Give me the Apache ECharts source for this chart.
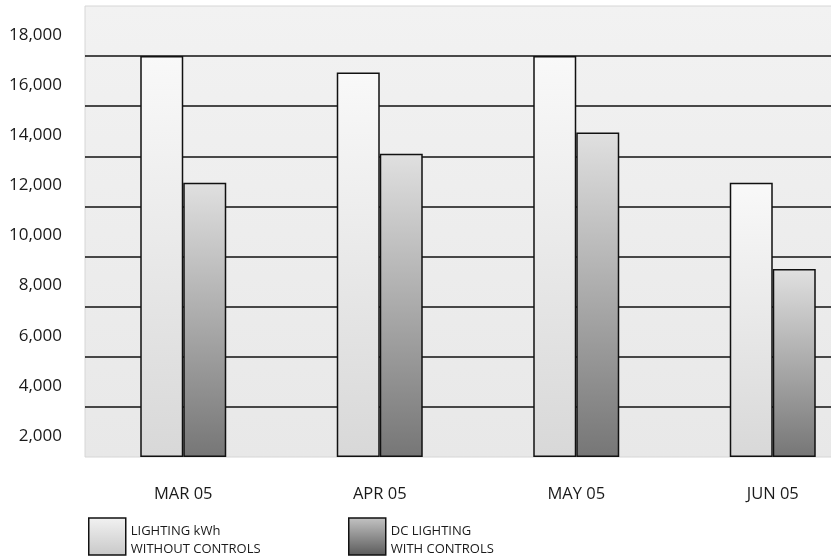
<!DOCTYPE html>
<html>
<head>
<meta charset="utf-8">
<script src="https://cdn.jsdelivr.net/npm/echarts@6/dist/echarts.min.js"></script>
<style>html,body{margin:0;padding:0;background:#fff;overflow:hidden}#wrap{width:831px;height:559px;overflow:hidden}#c{width:871px;height:559px}</style>
</head>
<body>
<div id="wrap"><div id="c"></div></div>
<script>
const categories = ['MAR 05', 'APR 05', 'MAY 05', 'JUN 05'];
const withoutControls = [16000, 15350, 16000, 10950];
const withControls = [10950, 12100, 12950, 7500];
const seriesNames = ['LIGHTING kWh\nWITHOUT CONTROLS', 'DC LIGHTING\nWITH CONTROLS'];
const yTicks = { min: 0, max: 18000, interval: 2000 };
const yTickLabels = ['2,000', '4,000', '6,000', '8,000', '10,000', '12,000', '14,000', '16,000', '18,000'];

const lightGrad = new echarts.graphic.LinearGradient(0, 0, 0, 1, [
  { offset: 0, color: '#f9f9f9' }, { offset: 1, color: '#d8d8d8' }
]);
const darkGrad = new echarts.graphic.LinearGradient(0, 0, 0, 1, [
  { offset: 0, color: '#e0e0e0' }, { offset: 1, color: '#767676' }
]);
const lightIcon = new echarts.graphic.LinearGradient(0, 0, 0, 1, [
  { offset: 0, color: '#f2f2f2' }, { offset: 1, color: '#c8c8c8' }
]);
const darkIcon = new echarts.graphic.LinearGradient(0, 0, 0, 1, [
  { offset: 0, color: '#c4c4c4' }, { offset: 1, color: '#5a5a5a' }
]);

const font = '"Open Sans", "Noto Sans", sans-serif';
const chart = echarts.init(document.getElementById('c'), null, { renderer: 'canvas' });
const legendBase = {
  orient: 'horizontal', top: 515, padding: 0, itemWidth: 37, itemHeight: 37, itemGap: 10,
  icon: 'rect', selectedMode: false,
  formatter: name => '{s| }\n' + name,
  textStyle: {
    fontFamily: font, fontSize: 13, lineHeight: 17.5, color: '#1a1a1a',
    rich: { s: { fontSize: 6, lineHeight: 8 } }
  }
};
chart.setOption({
  animation: false,
  backgroundColor: '#ffffff',
  grid: {
    left: 85, right: 0, top: 6, bottom: 102, show: true,
    backgroundColor: new echarts.graphic.LinearGradient(0, 0, 0, 1, [
      { offset: 0, color: '#f2f2f2' }, { offset: 1, color: '#e8e8e8' }
    ]),
    borderColor: '#d6d6d6', borderWidth: 1
  },
  legend: [
    Object.assign({}, legendBase, { left: 88, data: [{ name: seriesNames[0], itemStyle: { color: lightIcon, borderColor: '#111', borderWidth: 1.5 } }] }),
    Object.assign({}, legendBase, { left: 348, data: [{ name: seriesNames[1], itemStyle: { color: darkIcon, borderColor: '#111', borderWidth: 1.5 } }] })
  ],
  xAxis: {
    type: 'category', data: categories,
    axisLine: { show: false }, axisTick: { show: false },
    axisLabel: { margin: 29, fontFamily: font, fontSize: 16.5, color: '#1a1a1a' },
    splitLine: { show: false }
  },
  yAxis: [
    {
      type: 'value', min: yTicks.min, max: yTicks.max, interval: yTicks.interval,
      axisLine: { show: false }, axisTick: { show: false }, axisLabel: { show: false },
      splitLine: { show: true, showMinLine: false, showMaxLine: false, lineStyle: { color: '#111', width: 1.5 } }
    },
    {
      type: 'category', data: yTickLabels, position: 'left', boundaryGap: true,
      axisLine: { show: false }, axisTick: { show: false }, splitLine: { show: false },
      axisLabel: {
        interval: 0, margin: 23, fontFamily: font, fontSize: 17, lineHeight: 23, color: '#1a1a1a',
        formatter: v => '{s| }\n' + v,
        rich: { s: { fontSize: 6, lineHeight: 8 } }
      }
    }
  ],
  series: [
    { name: seriesNames[0], type: 'bar', data: withoutControls, barWidth: 43, barGap: '0%', yAxisIndex: 0,
      itemStyle: { color: lightGrad, borderColor: '#111', borderWidth: 1.5 } },
    { name: seriesNames[1], type: 'bar', data: withControls, barWidth: 43, barGap: '0%', yAxisIndex: 0,
      itemStyle: { color: darkGrad, borderColor: '#111', borderWidth: 1.5 } }
  ]
});
</script>
</body>
</html>
